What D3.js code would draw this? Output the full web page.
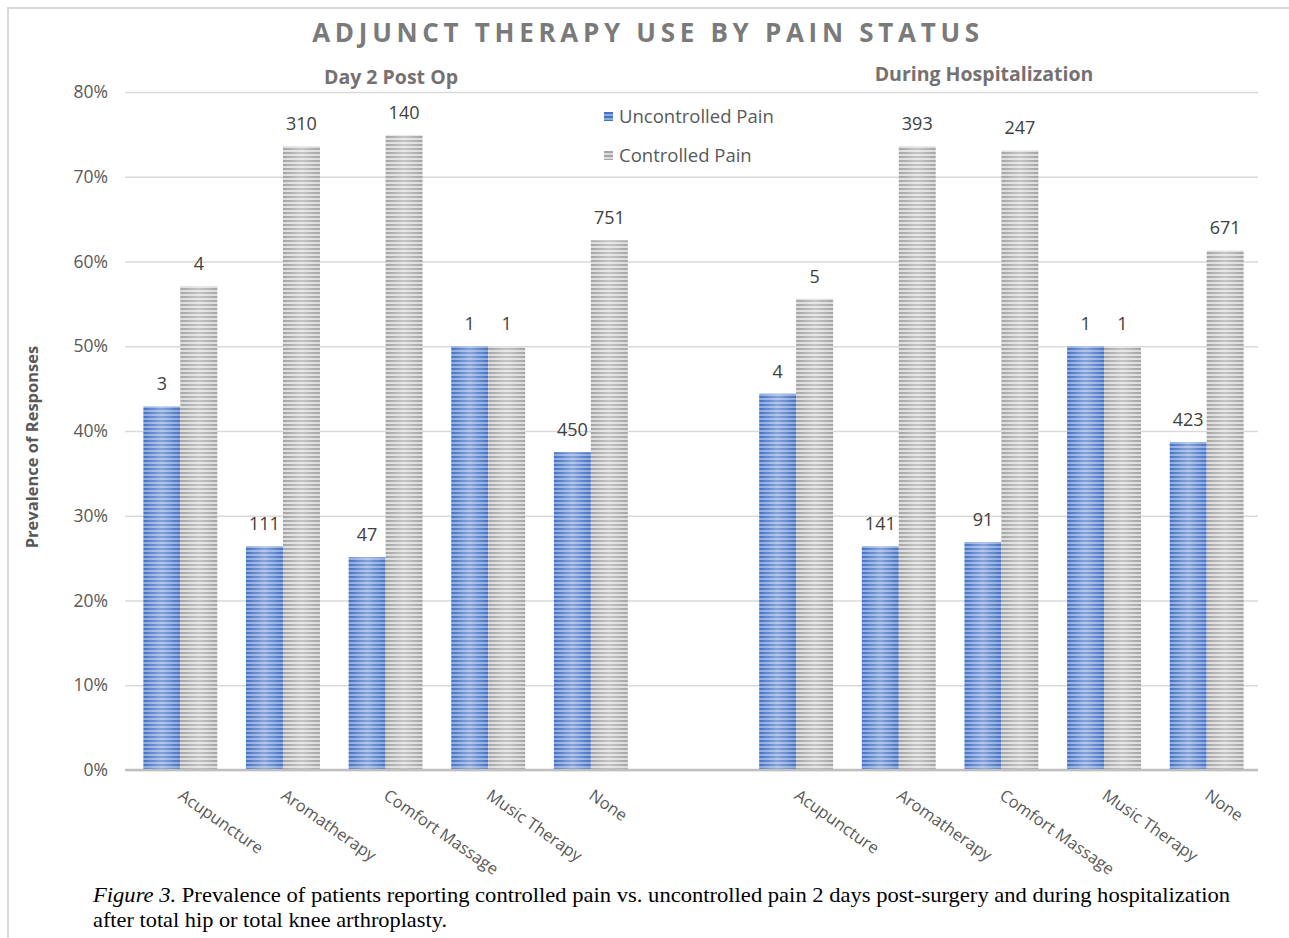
<!DOCTYPE html>
<html lang="en">
<head>
<meta charset="UTF-8">
<title>Adjunct Therapy Use by Pain Status</title>
<script src="https://d3js.org/d3.v7.min.js"></script>
<style>
html,body{margin:0;padding:0;background:#fff}
svg{display:block;font-family:"Open Sans",sans-serif}
.tick-label{font-size:17.5px;fill:#595959}
.cat-label{font-size:16.5px;fill:#595959}
.val-label{font-size:18px;fill:#404040}
.legend-text{font-size:18.5px;fill:#595959}
.caption{font-family:"Liberation Serif","Times New Roman",serif;font-size:21px;fill:#000}
</style>
</head>
<body>
<svg id="chart" width="1289" height="938"></svg>
<script>
// ── Data (percent of responses) ──
var categories = ['Acupuncture', 'Aromatherapy', 'Comfort Massage', 'Music Therapy', 'None'];
var periods = ['Day 2 Post Op', 'During Hospitalization'];
var seriesNames = ['Uncontrolled Pain', 'Controlled Pain'];

var uncontrolledDay2 = [42.9, 26.4, 25.1, 50.0, 37.5];
var controlledDay2   = [57.1, 73.6, 74.9, 50.0, 62.5];
var uncontrolledHosp = [44.4, 26.4, 26.9, 50.0, 38.7];
var controlledHosp   = [55.6, 73.6, 73.1, 50.0, 61.3];

// counts printed above bars
var countsUncontrolledDay2 = [3, 111, 47, 1, 450];
var countsControlledDay2   = [4, 310, 140, 1, 751];
var countsUncontrolledHosp = [4, 141, 91, 1, 423];
var countsControlledHosp   = [5, 393, 247, 1, 671];

var yTicks = [0, 10, 20, 30, 40, 50, 60, 70, 80];

// ── Build rows ──
var rows = [];
function addPeriod(p, unc, con, cu, cc) {
  categories.forEach(function(c, i) {
    rows.push({ key: p + '|' + c, cat: c, period: p,
      vals: [{ s: 0, v: unc[i], n: cu[i] }, { s: 1, v: con[i], n: cc[i] }] });
  });
}
addPeriod(periods[0], uncontrolledDay2, controlledDay2, countsUncontrolledDay2, countsControlledDay2);
var keys = rows.map(function(r) { return r.key; });
keys.push('gap');
addPeriod(periods[1], uncontrolledHosp, controlledHosp, countsUncontrolledHosp, countsControlledHosp);
rows.slice(5).forEach(function(r) { keys.push(r.key); });

var svg = d3.select('#chart');
var plotL = 125, plotR = 1258, plotT = 92, plotB = 770;

var x = d3.scaleBand().domain(keys).range([plotL + 4, plotR]).paddingInner(0.28).paddingOuter(0.14);
var xs = d3.scaleBand().domain([0, 1]).range([0, x.bandwidth()]);
var y = d3.scaleLinear().domain([0, 80]).range([plotB, plotT]);

// ── Patterns ──
var defs = svg.append('defs');
function stripes(id, dark, light) {
  var p = defs.append('pattern').attr('id', id).attr('patternUnits', 'userSpaceOnUse')
    .attr('width', 6).attr('height', 4);
  p.append('rect').attr('width', 6).attr('height', 4).attr('fill', dark);
  p.append('rect').attr('y', 2).attr('width', 6).attr('height', 2).attr('fill', light);
}
stripes('blueStripe', '#4472c4', '#8eaadf');
stripes('grayStripe', '#a5a5a5', '#dcdcdc');
var grad = defs.append('linearGradient').attr('id', 'sheen').attr('x1', 0).attr('x2', 1).attr('y1', 0).attr('y2', 0);
grad.append('stop').attr('offset', '0%').attr('stop-color', '#fff').attr('stop-opacity', 0);
grad.append('stop').attr('offset', '50%').attr('stop-color', '#fff').attr('stop-opacity', 0.35);
grad.append('stop').attr('offset', '100%').attr('stop-color', '#fff').attr('stop-opacity', 0);
var fills = ['url(#blueStripe)', 'url(#grayStripe)'];

// ── Outer border ──
svg.append('path').attr('d', 'M8,938V8H1289').attr('fill', 'none').attr('stroke', '#d9d9d9').attr('stroke-width', 2);

// ── Gridlines + y axis ──
svg.append('g')
  .attr('transform', 'translate(' + plotL + ',0)')
  .call(d3.axisLeft(y).tickValues(yTicks).tickSize(-(plotR - plotL)).tickFormat(''))
  .call(function(g) {
    g.select('.domain').remove();
    g.selectAll('line').attr('stroke', '#d9d9d9').attr('stroke-width', 1.3);
  });

svg.append('g').selectAll('text').data(yTicks).join('text')
  .attr('class', 'tick-label')
  .attr('x', 108).attr('y', function(d) { return y(d); }).attr('dy', '0.35em')
  .attr('text-anchor', 'end')
  .text(function(d) { return d + '%'; });

svg.append('text')
  .attr('transform', 'translate(38,447) rotate(-90)')
  .attr('text-anchor', 'middle')
  .style('font-size', '16.5px').style('font-weight', 700).style('fill', '#595959')
  .text('Prevalence of Responses');

// ── Bars ──
var groups = svg.append('g').selectAll('g').data(rows).join('g')
  .attr('transform', function(d) { return 'translate(' + x(d.key) + ',0)'; });

groups.selectAll('rect.bar').data(function(d) { return d.vals; }).join('rect')
  .attr('class', 'bar')
  .attr('x', function(d) { return xs(d.s); })
  .attr('width', xs.bandwidth())
  .attr('y', function(d) { return y(d.v); })
  .attr('height', function(d) { return y(0) - y(d.v); })
  .attr('fill', function(d) { return fills[d.s]; });

groups.selectAll('rect.sheen').data(function(d) { return d.vals; }).join('rect')
  .attr('class', 'sheen')
  .attr('x', function(d) { return xs(d.s); })
  .attr('width', xs.bandwidth())
  .attr('y', function(d) { return y(d.v); })
  .attr('height', function(d) { return y(0) - y(d.v); })
  .attr('fill', 'url(#sheen)');

groups.selectAll('text').data(function(d) { return d.vals; }).join('text')
  .attr('class', 'val-label')
  .attr('x', function(d) { return xs(d.s) + xs.bandwidth() / 2; })
  .attr('y', function(d) { return y(d.v) - 16; })
  .attr('text-anchor', 'middle')
  .text(function(d) { return d.n; });

// baseline
svg.append('line').attr('x1', plotL).attr('x2', plotR).attr('y1', y(0)).attr('y2', y(0))
  .attr('stroke', '#bfbfbf').attr('stroke-width', 2.5);

// ── Category labels ──
svg.append('g').selectAll('text').data(rows).join('text')
  .attr('class', 'cat-label')
  .attr('transform', function(d) {
    return 'translate(' + (x(d.key) + x.bandwidth() / 2 - 3) + ',' + (plotB + 28) + ') rotate(35)';
  })
  .text(function(d) { return d.cat; });

// ── Titles ──
svg.append('text')
  .attr('x', 648).attr('y', 42).attr('text-anchor', 'middle')
  .style('font-size', '26px').style('font-weight', 700).style('fill', '#7a7a7a')
  .style('letter-spacing', '4.7px')
  .text('ADJUNCT THERAPY USE BY PAIN STATUS');

svg.append('text').attr('x', 391).attr('y', 84).attr('text-anchor', 'middle')
  .style('font-size', '19.5px').style('font-weight', 700).style('fill', '#767171')
  .text(periods[0]);
svg.append('text').attr('x', 984).attr('y', 81).attr('text-anchor', 'middle')
  .style('font-size', '19.5px').style('font-weight', 700).style('fill', '#767171')
  .text(periods[1]);

// ── Legend ──
var legend = svg.append('g').selectAll('g').data(seriesNames).join('g')
  .attr('transform', function(d, i) { return 'translate(604,' + (112 + i * 39) + ')'; });
legend.append('rect').attr('width', 9).attr('height', 9)
  .attr('fill', function(d, i) { return fills[i]; });
legend.append('text').attr('class', 'legend-text').attr('x', 15).attr('y', 11).text(function(d) { return d; });

// ── Caption ──
var cap1 = svg.append('text').attr('class', 'caption').attr('x', 93).attr('y', 902)
  .attr('textLength', 1137).attr('lengthAdjust', 'spacingAndGlyphs');
cap1.append('tspan').style('font-style', 'italic').text('Figure 3.');
cap1.append('tspan').text(' Prevalence of patients reporting controlled pain vs. uncontrolled pain 2 days post-surgery and during hospitalization');
svg.append('text').attr('class', 'caption').attr('x', 93).attr('y', 927)
  .attr('textLength', 354).attr('lengthAdjust', 'spacingAndGlyphs')
  .text('after total hip or total knee arthroplasty.');
</script>
</body>
</html>
